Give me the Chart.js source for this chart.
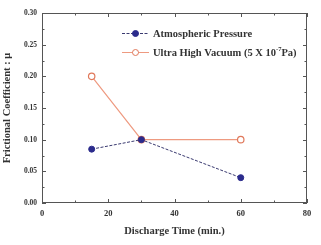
<!DOCTYPE html>
<html><head><meta charset="utf-8">
<script src="https://cdn.jsdelivr.net/npm/chart.js@4"></script>
<style>html,body{margin:0;padding:0;background:#fff}#w{width:321px;height:245px}</style>
</head><body><div id="w"><canvas id="c"></canvas></div>
<script>
const dischargeTimes = [15, 30, 60];
const atmospheric = [0.085, 0.10, 0.04];
const ultraHighVacuum = [0.20, 0.10, 0.10];
const xTicks = [0, 20, 40, 60, 80];
const yTicks = [0.00, 0.05, 0.10, 0.15, 0.20, 0.25, 0.30];
const seriesNames = ['Atmospheric Pressure', 'Ultra High Vacuum (5 X 10', '-7', 'Pa)'];

const FONT = '"Liberation Serif", "Times New Roman", serif';
const blue = '#2b2b8c', orange = '#e0785a';

const framePlugin = {
  id: 'frame',
  afterDraw(chart) {
    const {ctx, chartArea: a, scales: {x, y}} = chart;
    ctx.save();
    ctx.strokeStyle = '#555'; ctx.lineWidth = 1;
    ctx.strokeRect(a.left + 0.5, a.top + 0.5, a.right - a.left - 1, a.bottom - a.top - 1);
    ctx.beginPath();
    for (let v = 0; v <= 80; v += 10) {
      const px = Math.round(x.getPixelForValue(v)) + 0.5;
      const L = (v % 20 === 0) ? 4 : 2.5;
      ctx.moveTo(px, a.bottom); ctx.lineTo(px, a.bottom - L);
      ctx.moveTo(px, a.top); ctx.lineTo(px, a.top + L);
    }
    for (let i = 0; i <= 12; i++) {
      const v = i * 0.025;
      const py = Math.round(y.getPixelForValue(v)) + 0.5;
      const L = (i % 2 === 0) ? 4 : 2.5;
      ctx.moveTo(a.left, py); ctx.lineTo(a.left + L, py);
      ctx.moveTo(a.right, py); ctx.lineTo(a.right - L, py);
    }
    ctx.stroke();
    // legend
    const rows = [
      {ds: chart.data.datasets[0], y: 33},
      {ds: chart.data.datasets[1], y: 52}
    ];
    rows.forEach((r, i) => {
      const ds = r.ds;
      ctx.strokeStyle = ds.borderColor; ctx.lineWidth = 1;
      ctx.setLineDash(ds.borderDash || []);
      ctx.beginPath(); ctx.moveTo(122, r.y + 0.5); ctx.lineTo(149, r.y + 0.5); ctx.stroke();
      ctx.setLineDash([]);
      ctx.beginPath(); ctx.arc(135.5, r.y + 0.5, 3, 0, Math.PI * 2);
      ctx.fillStyle = ds.pointBackgroundColor; ctx.fill();
      ctx.strokeStyle = ds.pointBorderColor; ctx.stroke();
      ctx.fillStyle = '#333';
      ctx.font = 'bold 10.5px ' + FONT;
      ctx.textBaseline = 'middle'; ctx.textAlign = 'left';
      if (i === 0) {
        ctx.fillText(seriesNames[0], 153, r.y + 1);
      } else {
        ctx.fillText(seriesNames[1], 153, r.y + 1);
        let w = ctx.measureText(seriesNames[1]).width;
        ctx.font = 'bold 6.5px ' + FONT;
        ctx.fillText(seriesNames[2], 153 + w, r.y - 3);
        let w2 = ctx.measureText(seriesNames[2]).width;
        ctx.font = 'bold 10.5px ' + FONT;
        ctx.fillText(seriesNames[3], 153 + w + w2, r.y + 1);
      }
    });
    ctx.restore();
  }
};

new Chart(document.getElementById('c'), {
  type: 'line',
  data: {
    datasets: [
      {
        label: seriesNames[0],
        data: dischargeTimes.map((t, i) => ({x: t, y: atmospheric[i]})),
        borderColor: '#3a3a70', borderWidth: 1, borderDash: [3, 1.5],
        pointBackgroundColor: blue, pointBorderColor: blue,
        pointRadius: 3, pointBorderWidth: 1
      },
      {
        label: seriesNames[1] + seriesNames[2] + seriesNames[3],
        data: dischargeTimes.map((t, i) => ({x: t, y: ultraHighVacuum[i]})),
        borderColor: '#ee9a80', borderWidth: 1.2,
        pointBackgroundColor: '#ffffff', pointBorderColor: orange,
        pointRadius: 3.2, pointBorderWidth: 1.2
      }
    ]
  },
  options: {
    responsive: true, maintainAspectRatio: false, animation: false,
    layout: {padding: {top: 13, right: 14, left: 0, bottom: 0}},
    plugins: {legend: {display: false}, tooltip: {enabled: false}},
    scales: {
      x: {
        type: 'linear', min: 0, max: 80,
        afterBuildTicks: s => { s.ticks = xTicks.map(v => ({value: v})); },
        afterFit: s => { s.height = 42; },
        grid: {display: false, drawTicks: false},
        border: {display: false},
        ticks: {padding: 6, color: '#333', font: {family: FONT, size: 8.5, weight: 'bold'}, maxRotation: 0},
        title: {display: true, text: 'Discharge Time (min.)', color: '#333',
                font: {family: FONT, size: 10.5, weight: 'bold'}, padding: {top: 4, bottom: 7}}
      },
      y: {
        type: 'linear', min: 0, max: 0.30,
        afterBuildTicks: s => { s.ticks = yTicks.map(v => ({value: v})); },
        afterFit: s => { s.width = 42; },
        grid: {display: false, drawTicks: false},
        border: {display: false},
        ticks: {padding: 5, color: '#333', font: {family: FONT, size: 7.5, weight: 'bold'},
                callback: v => v.toFixed(2)},
        title: {display: true, text: 'Frictional Coefficient : μ', color: '#333',
                font: {family: FONT, size: 10.5, weight: 'bold'}, padding: {top: 1, bottom: 0}}
      }
    }
  },
  plugins: [framePlugin]
});
</script></body></html>
